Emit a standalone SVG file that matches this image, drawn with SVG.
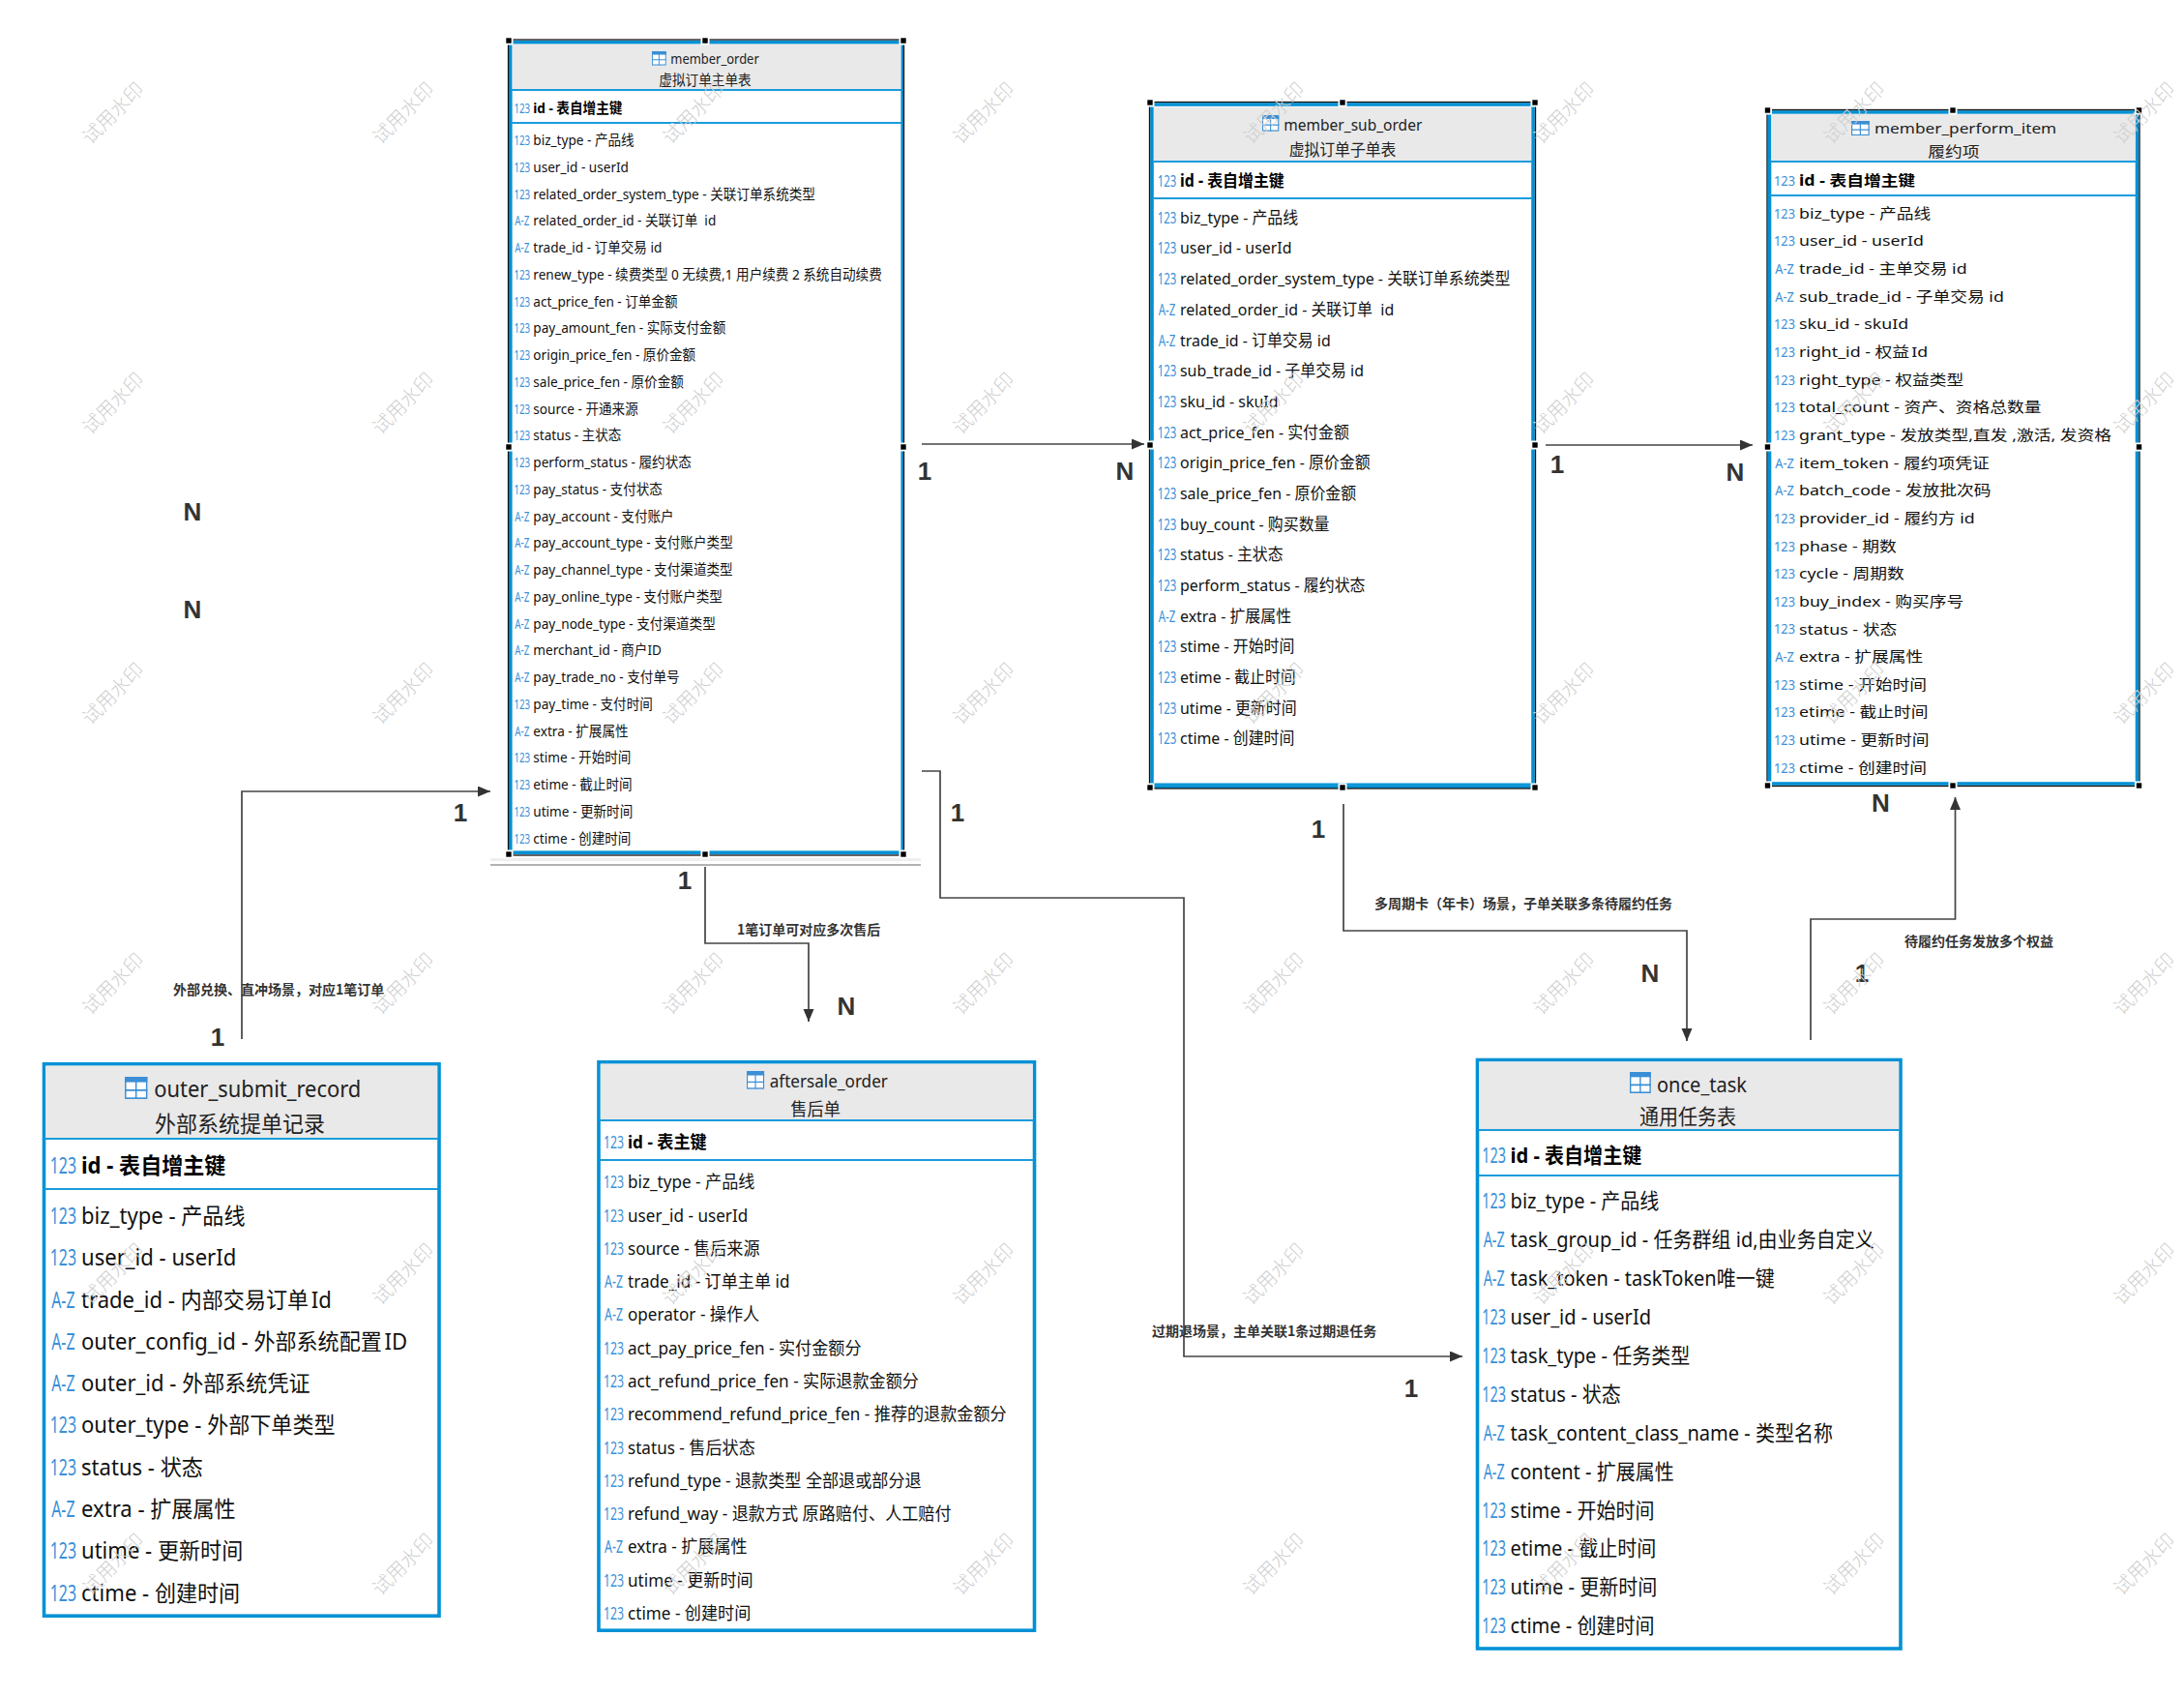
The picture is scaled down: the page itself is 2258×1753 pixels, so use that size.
<svg xmlns="http://www.w3.org/2000/svg" width="2258" height="1753" viewBox="0 0 2258 1753">
<style>
text{font-family:"Noto Sans","Noto Sans CJK SC",sans-serif;white-space:pre}
.r{font-size:16px;fill:#111}
.b{font-size:16px;font-weight:700;fill:#000}
.t{font-size:16px;fill:#222}
.c{font-size:16px;fill:#222;text-anchor:middle}
.i{font-size:16px;fill:#3a90d8;text-anchor:middle}
.box{fill:#fff;stroke:#0091d5;stroke-width:3.6}
.hd{fill:#e9e9e9}
.sep{stroke:#1a9bdc;stroke-width:1.8;fill:none}
.band{stroke:#0091d5;stroke-width:2;fill:none}
.sel{fill:none;stroke:#111;stroke-width:1.3}
.hw{fill:#fff}
.h{fill:#000}
.ln{fill:none;stroke:#444;stroke-width:1.7}
.card{font-family:"Liberation Sans",sans-serif;font-size:26px;font-weight:700;fill:#333;text-anchor:middle}
.lab{font-family:"Noto Sans CJK SC",sans-serif;font-size:14px;font-weight:700;fill:#333}
.wm{font-family:"Noto Sans CJK SC",sans-serif;font-size:20px;font-weight:300;fill:#cfcfcf;text-anchor:middle}
</style>
<defs>
<marker id="arr" markerUnits="userSpaceOnUse" markerWidth="14" markerHeight="12" refX="13" refY="5.5" orient="auto"><path d="M0 0L13 5.5L0 11Z" fill="#333"/></marker>
<g id="ti"><rect x="0.5" y="0.5" width="15" height="13" fill="#fff" stroke="#3a8fd6"/><rect x="0" y="0" width="16" height="3.4" fill="#3a8fd6"/><path d="M8 3V14M0 8.5H16" stroke="#3a8fd6" fill="none"/></g>
<g id="hs"><rect class="hw" x="-4.5" y="-4.5" width="9" height="9"/><rect class="h" x="-2.7" y="-2.7" width="5.4" height="5.4"/></g>
</defs>
<rect width="2258" height="1753" fill="#fff"/>

<g id="connectors">
<path class="ln" d="M953 459H1183" marker-end="url(#arr)"/>
<path class="ln" d="M1598 460H1812" marker-end="url(#arr)"/>
<path class="ln" d="M250 1074V818H507" marker-end="url(#arr)"/>
<path class="ln" d="M729 896V975H836V1056" marker-end="url(#arr)"/>
<path class="ln" d="M953 797H972V928H1224V1402H1512" marker-end="url(#arr)"/>
<path class="ln" d="M1389 831V962H1744V1076" marker-end="url(#arr)"/>
<path class="ln" d="M1872 1075V950H2021.5V824" marker-end="url(#arr)"/>
<path d="M507 888.5H952" stroke="#eee" stroke-width="3" fill="none"/>
<path d="M507 894H952" stroke="#999" stroke-width="1.5" fill="none"/>
<text class="lab" x="179" y="1028">外部兑换、直冲场景，对应1笔订单</text>
<text class="lab" x="762" y="966">1笔订单可对应多次售后</text>
<text class="lab" x="1191" y="1381">过期退场景，主单关联1条过期退任务</text>
<text class="lab" x="1421" y="939">多周期卡（年卡）场景，子单关联多条待履约任务</text>
<text class="lab" x="1969" y="978">待履约任务发放多个权益</text>
<text class="card" x="199" y="538">N</text>
<text class="card" x="199" y="639">N</text>
<text class="card" x="476" y="849">1</text>
<text class="card" x="225" y="1081">1</text>
<text class="card" x="708" y="919">1</text>
<text class="card" x="875" y="1049">N</text>
<text class="card" x="956" y="496">1</text>
<text class="card" x="1163" y="496">N</text>
<text class="card" x="990" y="849">1</text>
<text class="card" x="1459" y="1444">1</text>
<text class="card" x="1363" y="866">1</text>
<text class="card" x="1706" y="1015">N</text>
<text class="card" x="1610" y="489">1</text>
<text class="card" x="1794" y="497">N</text>
<text class="card" x="1944.5" y="839">N</text>
<text class="card" x="1925" y="1015">1</text>
</g>

<g id="member_order">
<rect class="box" x="527.8" y="43.8" width="405.4" height="837.4"/>
<rect class="hd" x="529.6" y="45.6" width="401.8" height="47.4"/>
<path class="sep" d="M529 93H932M529 127H932"/>
<use href="#ti" transform="translate(674,53) scale(.92,1.04)"/>
<text class="t" transform="translate(693.3,61) scale(.81,.925)" y="5.5">member_order</text>
<text class="c" transform="translate(729,83) scale(.852,.925)" y="5.5">虚拟订单主单表</text>
<g transform="translate(551.3,145) scale(.85,.925)">
<g transform="translate(-13.5,0) scale(.72,1)">
<text class="i" y="-30.2">123</text>
<text class="i" y="5.5">123</text><text class="i" y="35.5">123</text><text class="i" y="65.5">123</text><text class="i" y="95.5">A-Z</text><text class="i" y="125.5">A-Z</text><text class="i" y="155.5">123</text><text class="i" y="185.5">123</text><text class="i" y="215.5">123</text><text class="i" y="245.5">123</text><text class="i" y="275.5">123</text><text class="i" y="305.5">123</text><text class="i" y="335.5">123</text><text class="i" y="365.5">123</text><text class="i" y="395.5">123</text><text class="i" y="425.5">A-Z</text><text class="i" y="455.5">A-Z</text><text class="i" y="485.5">A-Z</text><text class="i" y="515.5">A-Z</text><text class="i" y="545.5">A-Z</text><text class="i" y="575.5">A-Z</text><text class="i" y="605.5">A-Z</text><text class="i" y="635.5">123</text><text class="i" y="665.5">A-Z</text><text class="i" y="695.5">123</text><text class="i" y="725.5">123</text><text class="i" y="755.5">123</text><text class="i" y="785.5">123</text>
</g>
<text class="b" y="-30.2">id - 表自增主键</text>
<text class="r" y="5.5">biz_type - 产品线</text>
<text class="r" y="35.5">user_id - userId</text>
<text class="r" y="65.5">related_order_system_type - 关联订单系统类型</text>
<text class="r" y="95.5">related_order_id - 关联订单  id</text>
<text class="r" y="125.5">trade_id - 订单交易 id</text>
<text class="r" y="155.5">renew_type - 续费类型 0 无续费,1 用户续费 2 系统自动续费</text>
<text class="r" y="185.5">act_price_fen - 订单金额</text>
<text class="r" y="215.5">pay_amount_fen - 实际支付金额</text>
<text class="r" y="245.5">origin_price_fen - 原价金额</text>
<text class="r" y="275.5">sale_price_fen - 原价金额</text>
<text class="r" y="305.5">source - 开通来源</text>
<text class="r" y="335.5">status - 主状态</text>
<text class="r" y="365.5">perform_status - 履约状态</text>
<text class="r" y="395.5">pay_status - 支付状态</text>
<text class="r" y="425.5">pay_account - 支付账户</text>
<text class="r" y="455.5">pay_account_type - 支付账户类型</text>
<text class="r" y="485.5">pay_channel_type - 支付渠道类型</text>
<text class="r" y="515.5">pay_online_type - 支付账户类型</text>
<text class="r" y="545.5">pay_node_type - 支付渠道类型</text>
<text class="r" y="575.5">merchant_id - 商户ID</text>
<text class="r" y="605.5">pay_trade_no - 支付单号</text>
<text class="r" y="635.5">pay_time - 支付时间</text>
<text class="r" y="665.5">extra - 扩展属性</text>
<text class="r" y="695.5">stime - 开始时间</text>
<text class="r" y="725.5">etime - 截止时间</text>
<text class="r" y="755.5">utime - 更新时间</text>
<text class="r" y="785.5">ctime - 创建时间</text>
</g>
<rect class="sel" x="525.5" y="41" width="409" height="843"/>
<use href="#hs" x="526" y="42"/><use href="#hs" x="729" y="42"/><use href="#hs" x="934" y="42"/><use href="#hs" x="526" y="462"/><use href="#hs" x="934" y="462"/><use href="#hs" x="526" y="883"/><use href="#hs" x="729" y="883"/><use href="#hs" x="934" y="883"/>
</g>

<g id="member_sub_order">
<rect class="box" x="1191" y="108" width="394" height="705"/>
<rect class="hd" x="1192.8" y="110.6" width="390.4" height="56.4"/>
<path class="band" d="M1192 810.5H1584"/>
<path class="sep" d="M1192 167H1584M1192 205H1584"/>
<use href="#ti" transform="translate(1305,119) scale(1.08,1.19)"/>
<text class="t" transform="translate(1327.3,129) scale(.97,1.056)" y="5.5">member_sub_order</text>
<text class="c" transform="translate(1388,155) scale(.99,1.056)" y="5.5">虚拟订单子单表</text>
<g transform="translate(1220,225) scale(.995,1.056)">
<g transform="translate(-13.5,0) scale(.72,1)">
<text class="i" y="-30.2">123</text>
<text class="i" y="5.5">123</text><text class="i" y="35.5">123</text><text class="i" y="65.5">123</text><text class="i" y="95.5">A-Z</text><text class="i" y="125.5">A-Z</text><text class="i" y="155.5">123</text><text class="i" y="185.5">123</text><text class="i" y="215.5">123</text><text class="i" y="245.5">123</text><text class="i" y="275.5">123</text><text class="i" y="305.5">123</text><text class="i" y="335.5">123</text><text class="i" y="365.5">123</text><text class="i" y="395.5">A-Z</text><text class="i" y="425.5">123</text><text class="i" y="455.5">123</text><text class="i" y="485.5">123</text><text class="i" y="515.5">123</text>
</g>
<text class="b" y="-30.2">id - 表自增主键</text>
<text class="r" y="5.5">biz_type - 产品线</text>
<text class="r" y="35.5">user_id - userId</text>
<text class="r" y="65.5">related_order_system_type - 关联订单系统类型</text>
<text class="r" y="95.5">related_order_id - 关联订单  id</text>
<text class="r" y="125.5">trade_id - 订单交易 id</text>
<text class="r" y="155.5">sub_trade_id - 子单交易 id</text>
<text class="r" y="185.5">sku_id - skuId</text>
<text class="r" y="215.5">act_price_fen - 实付金额</text>
<text class="r" y="245.5">origin_price_fen - 原价金额</text>
<text class="r" y="275.5">sale_price_fen - 原价金额</text>
<text class="r" y="305.5">buy_count - 购买数量</text>
<text class="r" y="335.5">status - 主状态</text>
<text class="r" y="365.5">perform_status - 履约状态</text>
<text class="r" y="395.5">extra - 扩展属性</text>
<text class="r" y="425.5">stime - 开始时间</text>
<text class="r" y="455.5">etime - 截止时间</text>
<text class="r" y="485.5">utime - 更新时间</text>
<text class="r" y="515.5">ctime - 创建时间</text>
</g>
<rect class="sel" x="1188.5" y="105.5" width="399" height="709.5"/>
<use href="#hs" x="1189" y="106"/><use href="#hs" x="1388" y="106"/><use href="#hs" x="1587" y="106"/><use href="#hs" x="1189" y="460"/><use href="#hs" x="1587" y="460"/><use href="#hs" x="1189" y="814"/><use href="#hs" x="1388" y="814"/><use href="#hs" x="1587" y="814"/>
</g>

<g id="member_perform_item">
<rect class="box" x="1829.5" y="116" width="380" height="694"/>
<rect class="hd" x="1831.3" y="117.8" width="376.4" height="49.2"/>
<path class="sep" d="M1830 167H2209M1830 202H2209"/>
<use href="#ti" transform="translate(1914,125) scale(1.17,1.07)"/>
<text class="t" transform="translate(1938,133) scale(1.078,.957)" y="5.5">member_perform_item</text>
<text class="c" transform="translate(2020,157) scale(1.11,.957)" y="5.5">履约项</text>
<g transform="translate(1860,220.5) scale(1.11,.955)">
<g transform="translate(-13.5,0) scale(.72,1)">
<text class="i" y="-30.2">123</text>
<text class="i" y="5.5">123</text><text class="i" y="35.5">123</text><text class="i" y="65.5">A-Z</text><text class="i" y="95.5">A-Z</text><text class="i" y="125.5">123</text><text class="i" y="155.5">123</text><text class="i" y="185.5">123</text><text class="i" y="215.5">123</text><text class="i" y="245.5">123</text><text class="i" y="275.5">A-Z</text><text class="i" y="305.5">A-Z</text><text class="i" y="335.5">123</text><text class="i" y="365.5">123</text><text class="i" y="395.5">123</text><text class="i" y="425.5">123</text><text class="i" y="455.5">123</text><text class="i" y="485.5">A-Z</text><text class="i" y="515.5">123</text><text class="i" y="545.5">123</text><text class="i" y="575.5">123</text><text class="i" y="605.5">123</text>
</g>
<text class="b" y="-30.2">id - 表自增主键</text>
<text class="r" y="5.5">biz_type - 产品线</text>
<text class="r" y="35.5">user_id - userId</text>
<text class="r" y="65.5">trade_id - 主单交易 id</text>
<text class="r" y="95.5">sub_trade_id - 子单交易 id</text>
<text class="r" y="125.5">sku_id - skuId</text>
<text class="r" y="155.5">right_id - 权益<tspan dx="2">Id</tspan></text>
<text class="r" y="185.5">right_type - 权益类型</text>
<text class="r" y="215.5">total_count - 资产、资格总数量</text>
<text class="r" y="245.5">grant_type - 发放类型,直发 ,激活, 发资格</text>
<text class="r" y="275.5">item_token - 履约项凭证</text>
<text class="r" y="305.5">batch_code - 发放批次码</text>
<text class="r" y="335.5">provider_id - 履约方 id</text>
<text class="r" y="365.5">phase - 期数</text>
<text class="r" y="395.5">cycle - 周期数</text>
<text class="r" y="425.5">buy_index - 购买序号</text>
<text class="r" y="455.5">status - 状态</text>
<text class="r" y="485.5">extra - 扩展属性</text>
<text class="r" y="515.5">stime - 开始时间</text>
<text class="r" y="545.5">etime - 截止时间</text>
<text class="r" y="575.5">utime - 更新时间</text>
<text class="r" y="605.5">ctime - 创建时间</text>
</g>
<rect class="sel" x="1827" y="113.5" width="385" height="699"/>
<use href="#hs" x="1827.5" y="114"/><use href="#hs" x="2019" y="114"/><use href="#hs" x="2211.5" y="114"/><use href="#hs" x="1827.5" y="462"/><use href="#hs" x="2211.5" y="462"/><use href="#hs" x="1827.5" y="812"/><use href="#hs" x="2019" y="812"/><use href="#hs" x="2211.5" y="812"/>
</g>

<g id="outer_submit_record">
<rect class="box" x="45.5" y="1099.8" width="408.5" height="570.4"/>
<rect class="hd" x="47.3" y="1101.6" width="404.9" height="75.4"/>
<path class="sep" d="M46 1177H453M46 1229H453"/>
<use href="#ti" transform="translate(129,1113) scale(1.46,1.64)"/>
<text class="t" transform="translate(159.3,1125.7) scale(1.37,1.443)" y="5.5">outer_submit_record</text>
<text class="c" transform="translate(248,1162) scale(1.374,1.443)" y="5.5">外部系统提单记录</text>
<g transform="translate(84,1257) scale(1.38,1.443)">
<g transform="translate(-13.5,0) scale(.72,1)">
<text class="i" y="-30.2">123</text>
<text class="i" y="5.5">123</text><text class="i" y="35.5">123</text><text class="i" y="65.5">A-Z</text><text class="i" y="95.5">A-Z</text><text class="i" y="125.5">A-Z</text><text class="i" y="155.5">123</text><text class="i" y="185.5">123</text><text class="i" y="215.5">A-Z</text><text class="i" y="245.5">123</text><text class="i" y="275.5">123</text>
</g>
<text class="b" y="-30.2">id - 表自增主键</text>
<text class="r" y="5.5">biz_type - 产品线</text>
<text class="r" y="35.5">user_id - userId</text>
<text class="r" y="65.5">trade_id - 内部交易订单<tspan dx="2">Id</tspan></text>
<text class="r" y="95.5">outer_config_id - 外部系统配置<tspan dx="2">ID</tspan></text>
<text class="r" y="125.5">outer_id - 外部系统凭证</text>
<text class="r" y="155.5">outer_type - 外部下单类型</text>
<text class="r" y="185.5">status - 状态</text>
<text class="r" y="215.5">extra - 扩展属性</text>
<text class="r" y="245.5">utime - 更新时间</text>
<text class="r" y="275.5">ctime - 创建时间</text>
</g>
</g>

<g id="aftersale_order">
<rect class="box" x="619" y="1097.8" width="450.5" height="587.4"/>
<rect class="hd" x="620.8" y="1099.6" width="446.9" height="58.4"/>
<path class="sep" d="M620 1158H1069M620 1199H1069"/>
<use href="#ti" transform="translate(772,1107) scale(1.13,1.33)"/>
<text class="t" transform="translate(795.7,1117.7) scale(1.07,1.143)" y="5.5">aftersale_order</text>
<text class="c" transform="translate(843,1147) scale(1.078,1.143)" y="5.5">售后单</text>
<g transform="translate(649,1222) scale(1.07,1.143)">
<g transform="translate(-13.5,0) scale(.72,1)">
<text class="i" y="-30.2">123</text>
<text class="i" y="5.5">123</text><text class="i" y="35.5">123</text><text class="i" y="65.5">123</text><text class="i" y="95.5">A-Z</text><text class="i" y="125.5">A-Z</text><text class="i" y="155.5">123</text><text class="i" y="185.5">123</text><text class="i" y="215.5">123</text><text class="i" y="245.5">123</text><text class="i" y="275.5">123</text><text class="i" y="305.5">123</text><text class="i" y="335.5">A-Z</text><text class="i" y="365.5">123</text><text class="i" y="395.5">123</text>
</g>
<text class="b" y="-30.2">id - 表主键</text>
<text class="r" y="5.5">biz_type - 产品线</text>
<text class="r" y="35.5">user_id - userId</text>
<text class="r" y="65.5">source - 售后来源</text>
<text class="r" y="95.5">trade_id - 订单主单 id</text>
<text class="r" y="125.5">operator - 操作人</text>
<text class="r" y="155.5">act_pay_price_fen - 实付金额分</text>
<text class="r" y="185.5">act_refund_price_fen - 实际退款金额分</text>
<text class="r" y="215.5">recommend_refund_price_fen - 推荐的退款金额分</text>
<text class="r" y="245.5">status - 售后状态</text>
<text class="r" y="275.5">refund_type - 退款类型 全部退或部分退</text>
<text class="r" y="305.5">refund_way - 退款方式 原路赔付、人工赔付</text>
<text class="r" y="335.5">extra - 扩展属性</text>
<text class="r" y="365.5">utime - 更新时间</text>
<text class="r" y="395.5">ctime - 创建时间</text>
</g>
</g>

<g id="once_task">
<rect class="box" x="1527.5" y="1095.5" width="437.5" height="608.5"/>
<rect class="hd" x="1529.3" y="1097.3" width="433.9" height="70.7"/>
<path class="sep" d="M1529 1168H1964M1529 1215H1964"/>
<use href="#ti" transform="translate(1685,1108) scale(1.36,1.57)"/>
<text class="t" transform="translate(1713,1121.5) scale(1.252,1.33)" y="5.5">once_task</text>
<text class="c" transform="translate(1745,1154.5) scale(1.252,1.33)" y="5.5">通用任务表</text>
<g transform="translate(1561.6,1242) scale(1.252,1.33)">
<g transform="translate(-13.5,0) scale(.72,1)">
<text class="i" y="-30.2">123</text>
<text class="i" y="5.5">123</text><text class="i" y="35.5">A-Z</text><text class="i" y="65.5">A-Z</text><text class="i" y="95.5">123</text><text class="i" y="125.5">123</text><text class="i" y="155.5">123</text><text class="i" y="185.5">A-Z</text><text class="i" y="215.5">A-Z</text><text class="i" y="245.5">123</text><text class="i" y="275.5">123</text><text class="i" y="305.5">123</text><text class="i" y="335.5">123</text>
</g>
<text class="b" y="-30.2">id - 表自增主键</text>
<text class="r" y="5.5">biz_type - 产品线</text>
<text class="r" y="35.5">task_group_id - 任务群组 id,由业务自定义</text>
<text class="r" y="65.5">task_token - taskToken唯一键</text>
<text class="r" y="95.5">user_id - userId</text>
<text class="r" y="125.5">task_type - 任务类型</text>
<text class="r" y="155.5">status - 状态</text>
<text class="r" y="185.5">task_content_class_name - 类型名称</text>
<text class="r" y="215.5">content - 扩展属性</text>
<text class="r" y="245.5">stime - 开始时间</text>
<text class="r" y="275.5">etime - 截止时间</text>
<text class="r" y="305.5">utime - 更新时间</text>
<text class="r" y="335.5">ctime - 创建时间</text>
</g>
</g>

<g id="watermark">
<text class="wm" transform="translate(117,117) rotate(-45)" y="7">试用水印</text><text class="wm" transform="translate(417,117) rotate(-45)" y="7">试用水印</text><text class="wm" transform="translate(717,117) rotate(-45)" y="7">试用水印</text><text class="wm" transform="translate(1017,117) rotate(-45)" y="7">试用水印</text><text class="wm" transform="translate(1317,117) rotate(-45)" y="7">试用水印</text><text class="wm" transform="translate(1617,117) rotate(-45)" y="7">试用水印</text><text class="wm" transform="translate(1917,117) rotate(-45)" y="7">试用水印</text><text class="wm" transform="translate(2217,117) rotate(-45)" y="7">试用水印</text>
<text class="wm" transform="translate(117,417) rotate(-45)" y="7">试用水印</text><text class="wm" transform="translate(417,417) rotate(-45)" y="7">试用水印</text><text class="wm" transform="translate(717,417) rotate(-45)" y="7">试用水印</text><text class="wm" transform="translate(1017,417) rotate(-45)" y="7">试用水印</text><text class="wm" transform="translate(1317,417) rotate(-45)" y="7">试用水印</text><text class="wm" transform="translate(1617,417) rotate(-45)" y="7">试用水印</text><text class="wm" transform="translate(1917,417) rotate(-45)" y="7">试用水印</text><text class="wm" transform="translate(2217,417) rotate(-45)" y="7">试用水印</text>
<text class="wm" transform="translate(117,717) rotate(-45)" y="7">试用水印</text><text class="wm" transform="translate(417,717) rotate(-45)" y="7">试用水印</text><text class="wm" transform="translate(717,717) rotate(-45)" y="7">试用水印</text><text class="wm" transform="translate(1017,717) rotate(-45)" y="7">试用水印</text><text class="wm" transform="translate(1317,717) rotate(-45)" y="7">试用水印</text><text class="wm" transform="translate(1617,717) rotate(-45)" y="7">试用水印</text><text class="wm" transform="translate(1917,717) rotate(-45)" y="7">试用水印</text><text class="wm" transform="translate(2217,717) rotate(-45)" y="7">试用水印</text>
<text class="wm" transform="translate(117,1017) rotate(-45)" y="7">试用水印</text><text class="wm" transform="translate(417,1017) rotate(-45)" y="7">试用水印</text><text class="wm" transform="translate(717,1017) rotate(-45)" y="7">试用水印</text><text class="wm" transform="translate(1017,1017) rotate(-45)" y="7">试用水印</text><text class="wm" transform="translate(1317,1017) rotate(-45)" y="7">试用水印</text><text class="wm" transform="translate(1617,1017) rotate(-45)" y="7">试用水印</text><text class="wm" transform="translate(1917,1017) rotate(-45)" y="7">试用水印</text><text class="wm" transform="translate(2217,1017) rotate(-45)" y="7">试用水印</text>
<text class="wm" transform="translate(117,1317) rotate(-45)" y="7">试用水印</text><text class="wm" transform="translate(417,1317) rotate(-45)" y="7">试用水印</text><text class="wm" transform="translate(717,1317) rotate(-45)" y="7">试用水印</text><text class="wm" transform="translate(1017,1317) rotate(-45)" y="7">试用水印</text><text class="wm" transform="translate(1317,1317) rotate(-45)" y="7">试用水印</text><text class="wm" transform="translate(1617,1317) rotate(-45)" y="7">试用水印</text><text class="wm" transform="translate(1917,1317) rotate(-45)" y="7">试用水印</text><text class="wm" transform="translate(2217,1317) rotate(-45)" y="7">试用水印</text>
<text class="wm" transform="translate(117,1617) rotate(-45)" y="7">试用水印</text><text class="wm" transform="translate(417,1617) rotate(-45)" y="7">试用水印</text><text class="wm" transform="translate(717,1617) rotate(-45)" y="7">试用水印</text><text class="wm" transform="translate(1017,1617) rotate(-45)" y="7">试用水印</text><text class="wm" transform="translate(1317,1617) rotate(-45)" y="7">试用水印</text><text class="wm" transform="translate(1617,1617) rotate(-45)" y="7">试用水印</text><text class="wm" transform="translate(1917,1617) rotate(-45)" y="7">试用水印</text><text class="wm" transform="translate(2217,1617) rotate(-45)" y="7">试用水印</text>
</g>
</svg>
